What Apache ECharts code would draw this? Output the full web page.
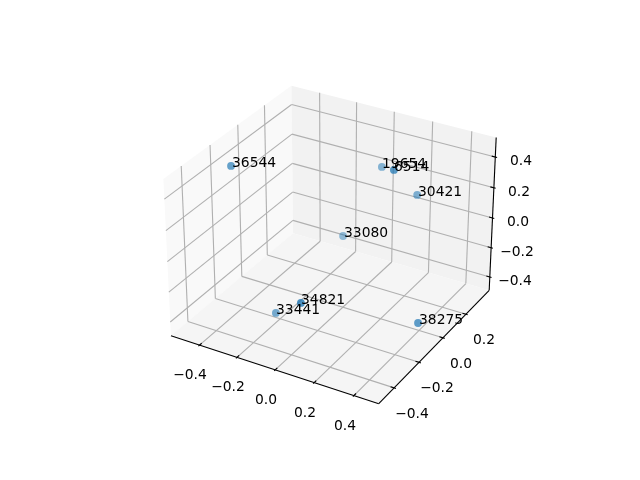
<!DOCTYPE html>
<html><head><meta charset="utf-8">
<style>html,body{margin:0;padding:0;background:#fff}#c{width:640px;height:480px}</style>
<script src="https://cdn.jsdelivr.net/npm/echarts@6/dist/echarts.min.js"></script>
</head><body><div id="c"></div>
<script>
const labels = ['36544','19654','6514','30421','33080','34821','33441','38275'];
const xs = [-0.433, 0.028, 0.249, 0.225, -0.097, 0.092, -0.154, 0.487];
const ys = [-0.217, 0.268, 0.012, 0.250, 0.147, -0.457, -0.295, -0.156];
const zs = [0.444, 0.266, 0.493, 0.161, -0.154, -0.068, -0.359, -0.282];
const xTicks = [-0.4,-0.2,0,0.2,0.4];
const yTicks = [-0.4,-0.2,0,0.2];
const zTicks = [-0.4,-0.2,0,0.2,0.4];
const xLim = [-0.555,0.523], yLim = [-0.52,0.41], zLim = [-0.493,0.525];

// Default 3D view: elevation 30, azimuth -60, perspective camera at distance 10
const B = [1.1905,1.1905,0.8929];
const U = [0.8660254,0.5,0], V = [-0.25,0.4330127,0.8660254], W = [0.4330127,-0.75,0.5];
const dot=(a,b)=>a[0]*b[0]+a[1]*b[1]+a[2]*b[2];
const toBox=p=>[(p[0]-xLim[0])/(xLim[1]-xLim[0]),(p[1]-yLim[0])/(yLim[1]-yLim[0]),(p[2]-zLim[0])/(zLim[1]-zLim[0])].map((t,i)=>(t-0.5)*B[i]);
const depth=p=>dot(toBox(p),W);
const proj=p=>{const q=toBox(p),s=10-dot(q,W);return [dot(q,U)/s,dot(q,V)/s];};

const [x0,x1]=xLim,[y0,y1]=yLim,[z0,z1]=zLim;
const dx=(x1-x0)/12,dy=(y1-y0)/12;
const panes=[
 {c:'#f9f9f9',p:[[x0,y0,z0],[x0,y1,z0],[x0,y1,z1],[x0,y0,z1]]},
 {c:'#f2f2f2',p:[[x0,y1,z0],[x1,y1,z0],[x1,y1,z1],[x0,y1,z1]]},
 {c:'#f5f5f5',p:[[x0,y0,z0],[x1,y0,z0],[x1,y1,z0],[x0,y1,z0]]}
];
const GRID='#b0b0b0',INK='#000000';
const segs=[];
xTicks.forEach(t=>{segs.push({c:GRID,a:[t,y0,z0],b:[t,y1,z0]},{c:GRID,a:[t,y1,z0],b:[t,y1,z1]});});
yTicks.forEach(t=>{segs.push({c:GRID,a:[x1,t,z0],b:[x0,t,z0]},{c:GRID,a:[x0,t,z0],b:[x0,t,z1]});});
zTicks.forEach(t=>{segs.push({c:GRID,a:[x0,y0,t],b:[x0,y1,t]},{c:GRID,a:[x0,y1,t],b:[x1,y1,t]});});
segs.push({c:INK,a:[x0,y0,z0],b:[x1,y0,z0]},{c:INK,a:[x1,y0,z0],b:[x1,y1,z0]},{c:INK,a:[x1,y1,z0],b:[x1,y1,z1]});
xTicks.forEach(t=>segs.push({c:INK,a:[t,y0+0.2*dy,z0],b:[t,y0-0.1*dy,z0]}));
yTicks.forEach(t=>segs.push({c:INK,a:[x1-0.2*dx,t,z0],b:[x1+0.1*dx,t,z0]}));
zTicks.forEach(t=>segs.push({c:INK,a:[x1-0.2*dx,y1,t],b:[x1+0.1*dx,y1,t]}));
const fmt=t=>(t<0?'\u2212':'')+Math.abs(t).toFixed(1);
const texts=[];
xTicks.forEach(t=>texts.push({s:fmt(t),p:[t,y0,z0],o:[-9,30],a:'center'}));
yTicks.forEach(t=>texts.push({s:fmt(t),p:[x1,t,z0],o:[18,26],a:'center'}));
zTicks.forEach(t=>texts.push({s:fmt(t),p:[x1,y1,t],o:[25.5,4],a:'center'}));
const FONT='13.89px "DejaVu Sans"';
const textEl=(api,it)=>{const c=api.coord(proj(it.p));
  return {type:'text',style:{text:it.s,x:Math.round(c[0]+it.o[0]),y:Math.round(c[1]+it.o[1]),font:FONT,fill:'#000',align:it.a,verticalAlign:'middle'}};};

const items=[...panes.map(k=>({k:'pane',...k})),...segs.map(k=>({k:'seg',...k})),...texts.map(k=>({k:'txt',...k}))];
const ds=xs.map((x,i)=>depth([x,ys[i],zs[i]]));
const dMin=Math.min(...ds),dMax=Math.max(...ds);
const ptLabels=labels.map((s,i)=>({s,p:[xs[i],ys[i],zs[i]],o:[0.5,-3],a:'left'}));

const chart=echarts.init(document.getElementById('c'),null,{renderer:'canvas'});
chart.setOption({
 animation:false,backgroundColor:'#ffffff',
 grid:{left:133,top:37,width:400,height:400,show:false},
 xAxis:{type:'value',min:-0.1,max:0.1,show:false},
 yAxis:{type:'value',min:-0.1,max:0.1,show:false},
 series:[
  {type:'custom',silent:true,clip:false,z:1,coordinateSystem:'cartesian2d',
   data:items.map((_,i)=>[0,0,i]),
   encode:{x:0,y:1},
   renderItem(params,api){
     const it=items[params.dataIndex];
     if(it.k==='pane') return {type:'polygon',shape:{points:it.p.map(p=>api.coord(proj(p)))},style:{fill:it.c,stroke:null}};
     if(it.k==='seg'){const a=api.coord(proj(it.a)),b=api.coord(proj(it.b));
       return {type:'line',shape:{x1:a[0],y1:a[1],x2:b[0],y2:b[1]},style:{stroke:it.c,lineWidth:1.11,fill:null}};}
     return textEl(api,it);
   }},
  {type:'scatter',silent:true,clip:false,z:3,symbol:'circle',symbolSize:7.8,
   data:xs.map((x,i)=>{const al=0.58+0.42*(ds[i]-dMin)/(dMax-dMin);
     return {value:proj([x,ys[i],zs[i]]),name:labels[i],itemStyle:{color:`rgba(31,119,180,${al.toFixed(3)})`}};})},
  {type:'custom',silent:true,clip:false,z:4,coordinateSystem:'cartesian2d',
   data:ptLabels.map((_,i)=>[0,0,i]),encode:{x:0,y:1},
   renderItem(params,api){return textEl(api,ptLabels[params.dataIndex]);}}
 ]
});
</script></body></html>
